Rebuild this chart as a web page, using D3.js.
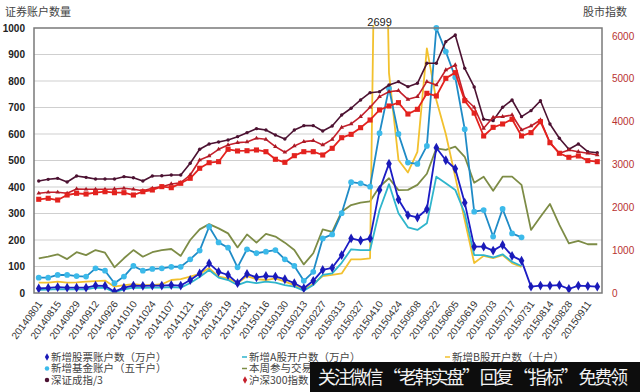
<!DOCTYPE html>
<html>
<head>
<meta charset="utf-8">
<script src="https://cdn.jsdelivr.net/npm/d3@7"></script>
<style>
  body { margin: 0; background: #fff; }
  svg { display: block; }
</style>
</head>
<body>
<svg id="chart" width="640" height="392"></svg>
<script>
// weekly dates, one label every two weeks
var dates = ["20140801","20140808","20140815","20140822","20140829","20140905","20140912","20140919","20140926","20141003",
  "20141010","20141017","20141024","20141031","20141107","20141114","20141121","20141128","20141205","20141212",
  "20141219","20141226","20141231","20150109","20150116","20150123","20150130","20150206","20150213","20150217",
  "20150227","20150306","20150313","20150320","20150327","20150403","20150410","20150417","20150424","20150430",
  "20150508","20150515","20150522","20150529","20150605","20150612","20150619","20150626","20150703","20150710",
  "20150717","20150724","20150731","20150807","20150814","20150821","20150828","20150904","20150911","20150918"];

var leftTicks = [0,100,200,300,400,500,600,700,800,900,1000];
var rightTicks = [0,1000,2000,3000,4000,5000,6000];

// left axis series
var stockAcc = [17,19,22,20,20,20,28,27,5,20,28,27,28,28,30,28,49,74,112,
  80,68,37,72,59,64,62,52,37,18,46,87,95,143,206,198,
  206,389,488,353,294,285,316,548,501,469,341,
  175,175,160,181,140,122,24,28,28,30,15,28,26,24];
var aShare = [12,13,15,14,14,14,20,19,3,14,20,19,20,20,22,20,38,60,87,
  58,49,30,43,37,43,39,30,24,9,30,68,74,114,165,162,
  162,313,411,301,248,238,263,439,414,389,301,143,143,134,146,118,102,
  null,null,null,null,null,null,null,null];
var bShare = [39,39,43,39,40,43,45,47,24,30,33,30,30,33,49,52,62,72,94,
  62,55,37,64,52,49,55,43,30,14,34,64,68,74,127,127,131,
  2699,830,502,455,533,923,728,600,438,275,113,140,132,143,113,98,
  null,null,null,null,null,null,null,null];
var fundAcc = [58,58,68,68,64,62,93,84,37,62,102,84,91,93,99,99,127,160,250,
  191,171,97,165,150,156,162,127,102,46,80,206,221,301,418,414,
  401,603,772,600,492,487,555,1000,911,814,618,307,313,213,317,225,210,
  null,null,null,null,null,null,null,null];
var tradeAcc = [131,137,146,128,154,143,162,152,97,131,162,137,154,162,166,140,200,240,260,
  244,225,172,221,190,223,213,190,162,108,150,240,231,307,332,341,
  346,401,433,388,389,408,450,546,540,552,514,
  416,439,386,439,439,408,238,288,336,257,187,197,184,184];

// right axis series
var szIndex3 = [2615,2654,2677,2591,2731,2700,2661,2661,2661,2716,2692,2615,2731,2739,2755,2755,3028,3355,3479,
  3526,3573,3650,3743,3837,3806,3689,3596,3806,3907,3907,3783,3899,4156,4313,4507,
  4677,4700,4856,4934,4817,4896,5363,5363,5868,6024,5246,4810,
  4055,4024,4336,4506,4117,4257,4490,3946,3612,3355,3479,3299,3276];
var hs300 = [2328,2351,2351,2328,2428,2421,2421,2421,2428,2445,2421,2389,2445,2483,2545,2575,2755,3105,3200,
  3355,3456,3510,3526,3612,3588,3417,3285,3432,3534,3557,3456,3588,3868,3946,4117,
  4336,4584,4700,4724,4522,4584,4934,4856,5207,5323,4546,4336,
  3845,4101,4117,4156,3806,3899,4039,3509,3262,3339,3299,3262,3222];
var shIndex = [2188,2211,2171,2288,2328,2311,2342,2365,2342,2342,2288,2365,2405,2483,2459,2561,2678,2912,3042,
  3066,3355,3316,3322,3339,3299,3122,3051,3206,3299,3299,3222,3378,3626,3704,3860,
  4039,4273,4366,4444,4179,4288,4662,4600,5012,5145,4490,4200,
  3666,3868,3946,4055,3666,3744,4000,3509,3262,3168,3199,3090,3066];

var svg = d3.select("#chart");
var pLeft = 34, pRight = 602, pTop = 28, pBottom = 293;

var x = d3.scalePoint().domain(dates).range([pLeft, pRight]).padding(0.5);
var yL = d3.scaleLinear().domain([0, 1000]).range([pBottom, pTop]);
var yR = d3.scaleLinear().domain([0, 6187]).range([pBottom, pTop]);

// grid
svg.append("g")
  .selectAll("line")
  .data(leftTicks.slice(1, -1))
  .join("line")
  .attr("x1", pLeft).attr("x2", pRight)
  .attr("y1", d => yL(d)).attr("y2", d => yL(d))
  .attr("stroke", "#cfcfcf").attr("stroke-width", 1);

// axis labels
svg.append("g")
  .attr("font-family", "Liberation Sans, Arial, sans-serif")
  .attr("font-size", 10).attr("font-weight", "bold")
  .attr("text-anchor", "end").attr("fill", "#222")
  .selectAll("text")
  .data(leftTicks)
  .join("text")
  .attr("x", 25).attr("y", d => yL(d)).attr("dy", "0.35em")
  .text(d => d);

svg.append("g")
  .attr("font-family", "Liberation Sans, Arial, sans-serif")
  .attr("font-size", 10)
  .attr("text-anchor", "start").attr("fill", "#b8312f")
  .selectAll("text")
  .data(rightTicks)
  .join("text")
  .attr("x", 612).attr("y", d => yR(d)).attr("dy", "0.35em")
  .text(d => d);

svg.append("g")
  .attr("font-family", "Liberation Sans, Arial, sans-serif")
  .attr("font-size", 10).attr("fill", "#333")
  .attr("text-anchor", "end")
  .selectAll("text")
  .data(dates.filter((d, i) => i % 2 == 0))
  .join("text")
  .attr("transform", d => `translate(${x(d) + 4},${pBottom + 11}) rotate(-54)`)
  .text(d => d);

svg.append("text").attr("x", 5).attr("y", 16)
  .attr("font-family", "Noto Sans CJK SC").attr("font-size", 11).attr("fill", "#444")
  .text("证券账户数量");
svg.append("text").attr("x", 583).attr("y", 16)
  .attr("font-family", "Noto Sans CJK SC").attr("font-size", 11).attr("fill", "#444")
  .text("股市指数");

svg.append("clipPath").attr("id", "clip")
  .append("rect").attr("x", pLeft).attr("y", pTop - 3).attr("width", pRight - pLeft).attr("height", pBottom - pTop + 3);

var plot = svg.append("g").attr("clip-path", "url(#clip)");

function drawLine(values, scale, color, width) {
  var line = d3.line()
    .defined(d => d != null)
    .x((d, i) => x(dates[i]))
    .y(d => scale(d));
  plot.append("path")
    .datum(values)
    .attr("fill", "none")
    .attr("stroke", color)
    .attr("stroke-width", width)
    .attr("stroke-linejoin", "round")
    .attr("d", line);
}

function drawMarks(values, scale, symbol, size, color) {
  plot.append("g")
    .selectAll("path")
    .data(values.map((v, i) => [i, v]).filter(d => d[1] != null))
    .join("path")
    .attr("transform", d => `translate(${x(dates[d[0]])},${scale(d[1])})`)
    .attr("d", d3.symbol().type(symbol).size(size))
    .attr("fill", color);
}

drawLine(tradeAcc, yL, "#7d8c46", 1.8);
drawLine(bShare, yL, "#f2c12e", 1.8);
drawLine(aShare, yL, "#2fb5cc", 1.8);
drawLine(fundAcc, yL, "#1f8bc6", 1.8);
drawMarks(fundAcc, yL, d3.symbolCircle, 26, "#3cbaea");
drawLine(stockAcc, yL, "#1c1cc4", 1.8);
drawMarks(stockAcc, yL, d3.symbolDiamond, 28, "#1a1ab8");

drawLine(szIndex3, yR, "#4c1232", 1.6);
drawMarks(szIndex3, yR, d3.symbolCircle, 9, "#4c1232");
drawLine(hs300, yR, "#c4202c", 1.6);
drawMarks(hs300, yR, d3.symbolTriangle, 9, "#a81a26");
drawLine(shIndex, yR, "#e3221e", 1.8);
drawMarks(shIndex, yR, d3.symbolSquare, 26, "#e3221e");

// peak label for the B share spike
var peakIdx = bShare.indexOf(d3.max(bShare));
svg.append("text")
  .attr("x", x(dates[peakIdx])).attr("y", 26)
  .attr("text-anchor", "middle")
  .attr("font-family", "Liberation Sans, Arial, sans-serif").attr("font-size", 11).attr("fill", "#222")
  .text(bShare[peakIdx]);

// frame
svg.append("rect")
  .attr("x", pLeft).attr("y", pTop).attr("width", pRight - pLeft).attr("height", pBottom - pTop)
  .attr("fill", "none").attr("stroke", "#7a7a7a").attr("stroke-width", 1.5);

// legend (the right half of the lower rows sits under the watermark)
var legend = [
  {name: "新增股票账户数（万户）", color: "#1a1ab8", sym: d3.symbolDiamond, col: 0, row: 0},
  {name: "新增A股开户数（万户）", color: "#2fb5cc", sym: null, col: 1, row: 0},
  {name: "新增B股开户数（十户）", color: "#f2c12e", sym: null, col: 2, row: 0},
  {name: "新增基金账户（五千户）", color: "#3cbaea", sym: d3.symbolCircle, col: 0, row: 1},
  {name: "本周参与交易", color: "#7d8c46", sym: null, col: 1, row: 1},
  {name: "深证成指/3", color: "#4c1232", sym: d3.symbolCircle, col: 0, row: 2},
  {name: "沪深300指数", color: "#c4202c", sym: d3.symbolDiamond, col: 1, row: 2}
];
var colX = [47, 245, 448];
var rowY = [357, 368.5, 380];

var lg = svg.append("g")
  .selectAll("g")
  .data(legend)
  .join("g")
  .attr("transform", d => `translate(${colX[d.col]},${rowY[d.row]})`);

lg.append("path")
  .attr("d", d => d.sym ? d3.symbol().type(d.sym).size(16)() : "M-3,0H2")
  .attr("fill", d => d.color)
  .attr("stroke", d => d.sym ? "none" : d.color)
  .attr("stroke-width", 1.5);

lg.append("text")
  .attr("x", 4).attr("dy", "0.35em")
  .attr("font-family", "Noto Sans CJK SC").attr("font-size", 10.5).attr("fill", "#444")
  .text(d => d.name);

// watermark band over the bottom right
svg.append("rect").attr("x", 310).attr("y", 362).attr("width", 330).attr("height", 30).attr("fill", "#0d0d0d");
svg.append("text").attr("x", 318).attr("y", 384)
  .attr("font-family", "Noto Sans CJK SC").attr("font-size", 18).attr("fill", "#f2f2f2")
  .attr("textLength", 310)
  .text("关注微信 “老韩实盘” 回复 “指标” 免费领");
</script>
</body>
</html>
